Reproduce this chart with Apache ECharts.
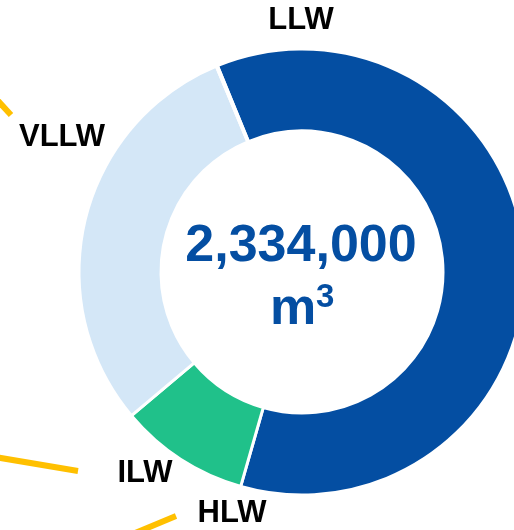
<!DOCTYPE html>
<html><head><meta charset="utf-8">
<script src="https://cdn.jsdelivr.net/npm/echarts@6/dist/echarts.min.js"></script>
<style>html,body{margin:0;padding:0;background:#fff}#c{width:514px;height:530px}</style>
</head><body><div id="c"></div>
<script>
const categories = ['LLW', 'ILW', 'VLLW', 'HLW'];
const volumes = [1415000, 220000, 697000, 2000];
const totalLabel = '2,334,000';
const unitBase = 'm';
const unitExp = '3';
const colors = ['#044EA2', '#20C18A', '#D4E7F7', '#FFC000'];
const labelPos = [[301, 20], [145, 473], [62, 137], [232, 513]];

const chart = echarts.init(document.getElementById('c'), null, {renderer: 'canvas'});
const yellow = '#FFC000';
chart.setOption({
  animation: false,
  series: [{
    type: 'pie',
    center: [302, 272],
    radius: [141, 223],
    startAngle: 112.3,
    clockwise: true,
    avoidLabelOverlap: false,
    minAngle: 0,
    itemStyle: {borderColor: '#fff', borderWidth: 3},
    label: {show: true, position: 'outside', color: '#000', fontFamily: 'Liberation Sans, Arial', fontWeight: 'bold', fontSize: 31},
    labelLine: {show: false},
    labelLayout: function (p) {
      const pos = labelPos[p.dataIndex];
      return {x: pos[0], y: pos[1], align: 'center', verticalAlign: 'middle'};
    },
    emphasis: {disabled: true},
    data: categories.map((c, i) => ({name: c, value: volumes[i], itemStyle: {color: colors[i]}}))
  }],
  graphic: [
    {type: 'text', x: 301, y: 247, style: {text: totalLabel, fill: '#044EA2', font: 'bold 52px "Liberation Sans", Arial', textAlign: 'center', textVerticalAlign: 'middle'}},
    {type: 'text', x: 293, y: 310, style: {text: unitBase, fill: '#044EA2', font: 'bold 52px "Liberation Sans", Arial', textAlign: 'center', textVerticalAlign: 'middle'}},
    {type: 'text', x: 316, y: 298, style: {text: unitExp, fill: '#044EA2', font: 'bold 33px "Liberation Sans", Arial', textAlign: 'left', textVerticalAlign: 'middle'}},
    {type: 'polyline', shape: {points: [[-10, 92], [11, 115]]}, style: {stroke: yellow, lineWidth: 6}},
    {type: 'polyline', shape: {points: [[-5, 457], [78, 471]]}, style: {stroke: yellow, lineWidth: 6}},
    {type: 'polyline', shape: {points: [[176, 516], [128, 536]]}, style: {stroke: yellow, lineWidth: 6}}
  ]
});
</script></body></html>
